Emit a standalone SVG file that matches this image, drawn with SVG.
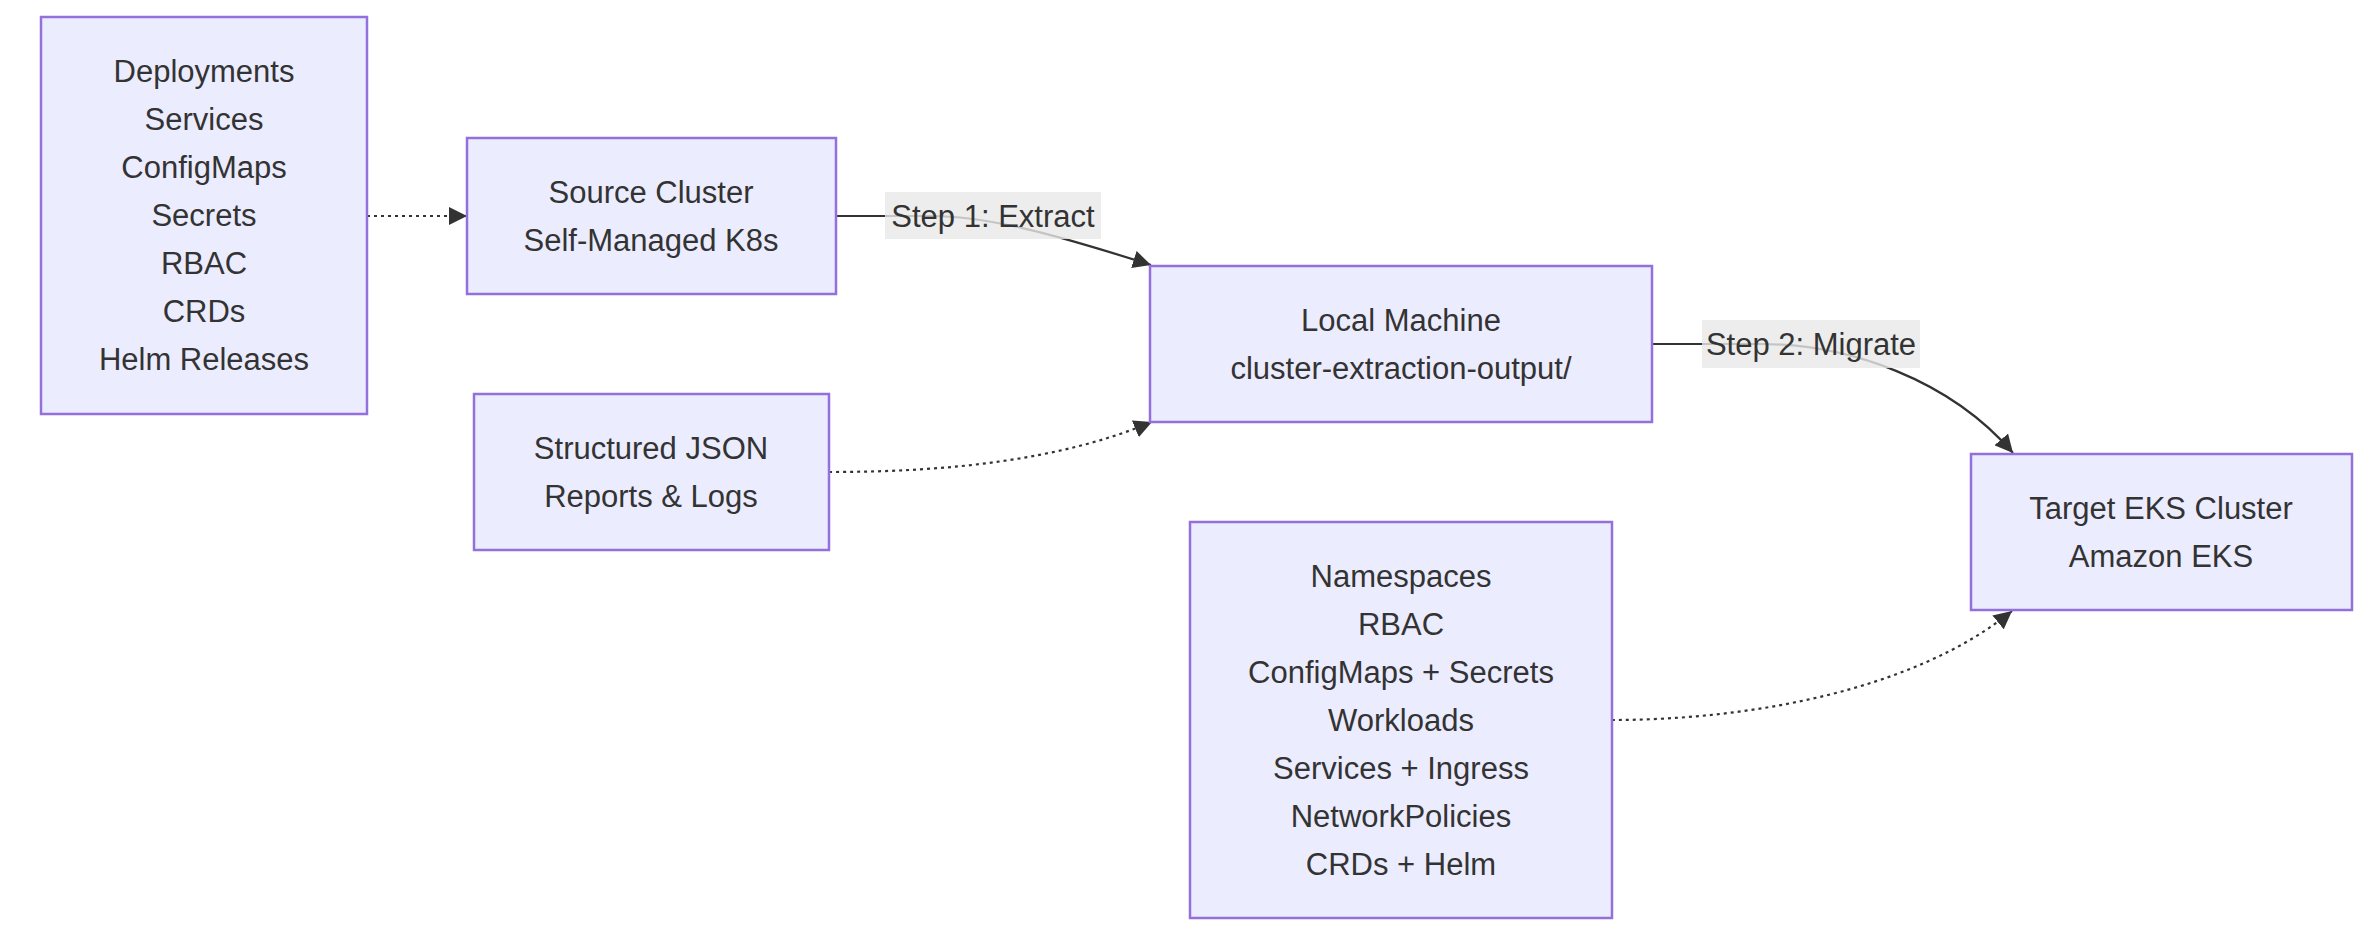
<svg xmlns="http://www.w3.org/2000/svg" width="2376" height="944" viewBox="0 0 2376 944">
<defs>
<style>
.node rect{fill:#ECECFF;stroke:#9370DB;stroke-width:2.5}
text{font-family:"Liberation Sans",Arial,sans-serif;font-size:31px;fill:#333;text-anchor:middle}
.edge{fill:none;stroke:#333;stroke-width:2.2}
.dotted{stroke-dasharray:3 4}
.lbl rect{fill:rgba(232,232,232,0.8)}
</style>
<marker id="arrow" viewBox="0 0 10 10" refX="10" refY="5" markerUnits="userSpaceOnUse" markerWidth="18" markerHeight="18" orient="auto">
<path d="M0,0 L10,5 L0,10 z" fill="#333"/>
</marker>
</defs>
<rect width="2376" height="944" fill="#fff"/>
<g id="connectors">
<path class="edge dotted" d="M367,216 L467,216" marker-end="url(#arrow)"/>
<path class="edge" d="M836,216 L930,216 C990,216 1060,236 1151,265" marker-end="url(#arrow)"/>
<path class="edge dotted" d="M829,472 C950,472 1060,460 1152,422" marker-end="url(#arrow)"/>
<path class="edge" d="M1652,344 L1760,344 C1850,344 1950,380 2013,453" marker-end="url(#arrow)"/>
<path class="edge dotted" d="M1612,720 C1750,720 1915,690 2012,611" marker-end="url(#arrow)"/>
<g class="lbl" id="label-step1">
<rect x="885" y="192" width="216" height="47"/>
<text x="993" y="227">Step 1: Extract</text>
</g>
<g class="lbl" id="label-step2">
<rect x="1702" y="320" width="218" height="48"/>
<text x="1811" y="355">Step 2: Migrate</text>
</g>
</g>
<g id="resources" class="node">
<rect x="41" y="17" width="326" height="397"/>
<text x="204" y="82">Deployments</text>
<text x="204" y="130">Services</text>
<text x="204" y="178">ConfigMaps</text>
<text x="204" y="226">Secrets</text>
<text x="204" y="274">RBAC</text>
<text x="204" y="322">CRDs</text>
<text x="204" y="370">Helm Releases</text>
</g>
<g id="source" class="node">
<rect x="467" y="138" width="369" height="156"/>
<text x="651" y="203">Source Cluster</text>
<text x="651" y="251">Self-Managed K8s</text>
</g>
<g id="reports" class="node">
<rect x="474" y="394" width="355" height="156"/>
<text x="651" y="459">Structured JSON</text>
<text x="651" y="507">Reports &amp; Logs</text>
</g>
<g id="local" class="node">
<rect x="1150" y="266" width="502" height="156"/>
<text x="1401" y="331">Local Machine</text>
<text x="1401" y="379">cluster-extraction-output/</text>
</g>
<g id="target" class="node">
<rect x="1971" y="454" width="381" height="156"/>
<text x="2161" y="519">Target EKS Cluster</text>
<text x="2161" y="567">Amazon EKS</text>
</g>
<g id="migration-order" class="node">
<rect x="1190" y="522" width="422" height="396"/>
<text x="1401" y="587">Namespaces</text>
<text x="1401" y="635">RBAC</text>
<text x="1401" y="683">ConfigMaps + Secrets</text>
<text x="1401" y="731">Workloads</text>
<text x="1401" y="779">Services + Ingress</text>
<text x="1401" y="827">NetworkPolicies</text>
<text x="1401" y="875">CRDs + Helm</text>
</g>
</svg>
